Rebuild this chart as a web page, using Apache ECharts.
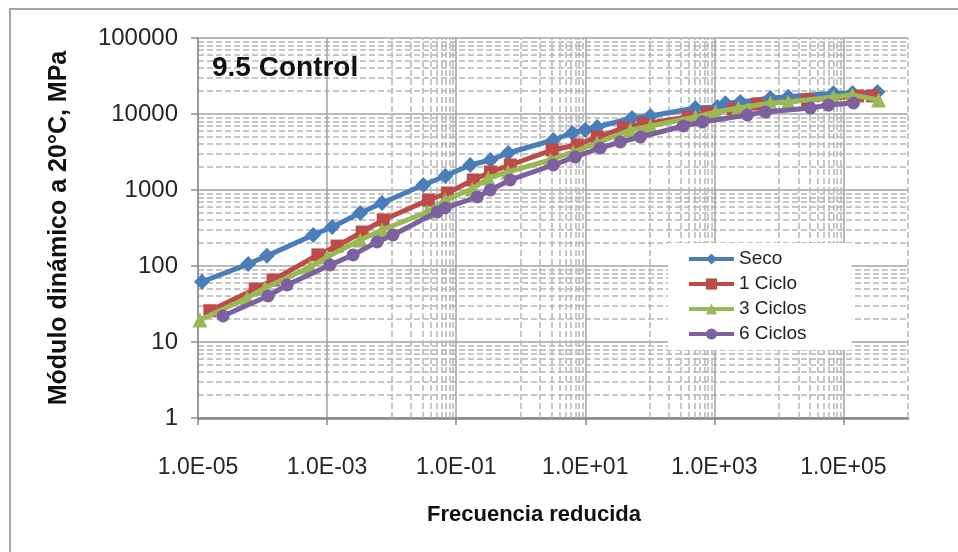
<!DOCTYPE html>
<html lang="es">
<head>
<meta charset="utf-8">
<title>9.5 Control</title>
<style>
  html, body { margin: 0; padding: 0; background: #fff; }
  #main { width: 958px; height: 552px; }
</style>
</head>
<body>
<div id="main"></div>
<script src="https://cdn.jsdelivr.net/npm/echarts@6/dist/echarts.min.js"></script>
<script>
var FONT = "'Liberation Sans Narrow', 'Arial Narrow', 'Liberation Sans', sans-serif";

// etiquetas del eje x (una por década, se muestran una de cada dos)
var xLabels = ['1.0E-05', '1.0E-04', '1.0E-03', '1.0E-02', '1.0E-01', '1.0E+00',
               '1.0E+01', '1.0E+02', '1.0E+03', '1.0E+04', '1.0E+05', '1.0E+06'];

var seriesNames = ['Seco', '1 Ciclo', '3 Ciclos', '6 Ciclos'];
var seriesColors = ['#4a7ebb', '#be4b48', '#98b954', '#7d60a0'];
var seriesSymbols = ['diamond', 'rect', 'triangle', 'circle'];
var symbolSizes = [16, 13, 15, 13];

// frecuencia reducida (Hz) y módulo (MPa) de cada serie
var secoFreq = [1.15e-5, 6.0e-5, 1.17e-4, 6.1e-4, 1.2e-3, 3.25e-3, 7.1e-3, 0.031, 0.068, 0.165, 0.34, 0.64,
                3.2, 6.3, 10, 15.3, 53, 102, 507, 1110, 1480, 2530, 7400, 14000, 70000, 138000, 337000];
var secoMod = [62, 106, 136, 256, 326, 498, 674, 1164, 1530, 2130, 2480, 3070,
               4550, 5620, 6160, 6740, 8860, 9410, 12000, 12400, 13900, 14400, 16200, 16900, 18700, 18900, 19500];

var ciclo1Freq = [1.53e-5, 7.7e-5, 1.46e-4, 7.2e-4, 1.43e-3, 3.5e-3, 7.4e-3, 0.037, 0.073, 0.184, 0.34, 0.69,
                  3.07, 7.5, 15.3, 39, 79, 395, 780, 1970, 4650, 27700, 165000, 282000];
var ciclo1Mod = [25.8, 49.8, 65.4, 140, 183, 280, 403, 738, 913, 1356, 1727, 2133,
                 3360, 3910, 4980, 6540, 7390, 9140, 10300, 11600, 13500, 15300, 17300, 17300];

var ciclo3Freq = [1.07e-5, 5.75e-5, 1.09e-4, 5.45e-4, 1.0e-3, 3.25e-3, 7.1e-3, 0.0355, 0.0675, 0.177, 0.313, 0.64,
                  2.86, 6.5, 15.3, 50, 102, 507, 1040, 2350, 7380, 14000, 70000, 138000, 349000];
var ciclo3Mod = [19.5, 37.9, 51.4, 97, 131, 220, 298, 514, 738, 1030, 1438, 1727,
                 2483, 3162, 4150, 6150, 6950, 9140, 10600, 12000, 13960, 14380, 16700, 17800, 15300];

var ciclo6Freq = [2.44e-5, 1.22e-4, 2.4e-4, 1.11e-3, 2.53e-3, 5.96e-3, 0.0105, 0.0507, 0.0675, 0.212, 0.337, 0.687,
                  3.19, 7.0, 17.1, 34.9, 71.3, 330, 652, 3250, 6180, 30800, 58500, 143000];
var ciclo6Mod = [22, 40.3, 56.2, 103, 140, 207, 256, 514, 580, 809, 1000, 1356,
                 2133, 2720, 3570, 4280, 4980, 6950, 7850, 9700, 10600, 12000, 13100, 13960];

var freqs = [secoFreq, ciclo1Freq, ciclo3Freq, ciclo6Freq];
var mods = [secoMod, ciclo1Mod, ciclo3Mod, ciclo6Mod];

// lineas secundarias verticales: 1..9 x 10^(par)
var minorX = [];
[-4, -2, 0, 2, 4].forEach(function (e) {
    for (var k = 1; k <= 9; k++) minorX.push(k * Math.pow(10, e));
});
minorX.push(1e6);

var chart = echarts.init(document.getElementById('main'));

var series = [{
    name: 'grid',
    type: 'line',
    xAxisIndex: 0,
    data: [],
    silent: true,
    z: 1,
    markLine: {
        silent: true,
        z: 1,
        animation: false,
        symbol: ['none', 'none'],
        label: { show: false },
        emphasis: { disabled: true },
        lineStyle: { color: '#b5b5b5', type: [6, 3], width: 1.5 },
        data: minorX.map(function (v) { return { xAxis: v }; })
    }
}];

seriesNames.forEach(function (name, i) {
    series.push({
        name: name,
        type: 'line',
        xAxisIndex: 0,
        z: 3 + i,
        symbol: seriesSymbols[i],
        symbolSize: symbolSizes[i],
        showAllSymbol: true,
        itemStyle: { color: seriesColors[i] },
        lineStyle: { color: seriesColors[i], width: 5 },
        data: freqs[i].map(function (f, j) { return [f, mods[i][j]]; })
    });
});

chart.setOption({
    animation: false,
    title: {
        text: '9.5 Control',
        left: 207,
        top: 49,
        textStyle: { fontFamily: FONT, fontSize: 28, fontWeight: 'bold', color: '#111' }
    },
    legend: {
        data: seriesNames,
        orient: 'vertical',
        left: 668,
        top: 243,
        padding: [6, 45, 6, 19],
        itemWidth: 45,
        itemHeight: 14,
        itemGap: 5,
        lineStyle: { width: 4 },
        backgroundColor: '#fff',
        textStyle: { fontFamily: FONT, fontSize: 19, lineHeight: 20, color: '#222' }
    },
    graphic: [{
        type: 'rect',
        silent: true,
        shape: { x: 10, y: 9, width: 960, height: 560 },
        style: { fill: 'none', stroke: '#8a8a8a', lineWidth: 1.5 }
    }],
    grid: { left: 198, top: 38, width: 710, height: 380 },
    xAxis: [{
        type: 'log',
        logBase: 10,
        min: 1e-5,
        max: 1e6,
        show: false,
        position: 'top'
    }, {
        type: 'category',
        data: xLabels,
        boundaryGap: false,
        position: 'bottom',
        axisLine: { show: true, lineStyle: { color: '#878787', width: 2.5 } },
        axisTick: { show: true, interval: 1, length: 7, lineStyle: { color: '#878787', width: 1.5 } },
        axisLabel: { interval: 1, margin: 38, fontFamily: FONT, fontSize: 23, color: '#262626' },
        splitLine: { show: true, interval: 1, lineStyle: { color: '#a3a3a3', width: 1.5 } },
        name: 'Frecuencia reducida',
        nameLocation: 'middle',
        nameGap: 86,
        nameTextStyle: { fontFamily: FONT, fontSize: 22, fontWeight: 'bold', color: '#111', padding: [0, 38, 0, 0] }
    }],
    yAxis: {
        type: 'log',
        logBase: 10,
        min: 1,
        max: 100000,
        axisLine: { show: true, lineStyle: { color: '#8c8c8c', width: 1.5 } },
        axisTick: { show: true, length: 7, lineStyle: { color: '#8c8c8c', width: 1.5 } },
        axisLabel: {
            margin: 20, fontFamily: FONT, fontSize: 24, color: '#262626',
            formatter: function (v) { return String(Math.round(v)); }
        },
        splitLine: { show: true, lineStyle: { color: '#a3a3a3', width: 1.5 } },
        minorTick: { show: false, splitNumber: 9 },
        minorSplitLine: { show: true, lineStyle: { color: '#b5b5b5', type: [6, 3], width: 1.5 } },
        name: 'Módulo dinámico a 20°C, MPa',
        nameLocation: 'middle',
        nameGap: 126,
        nameTextStyle: { fontFamily: FONT, fontSize: 25, fontWeight: 'bold', color: '#111' }
    },
    series: series
});
</script>
</body>
</html>
